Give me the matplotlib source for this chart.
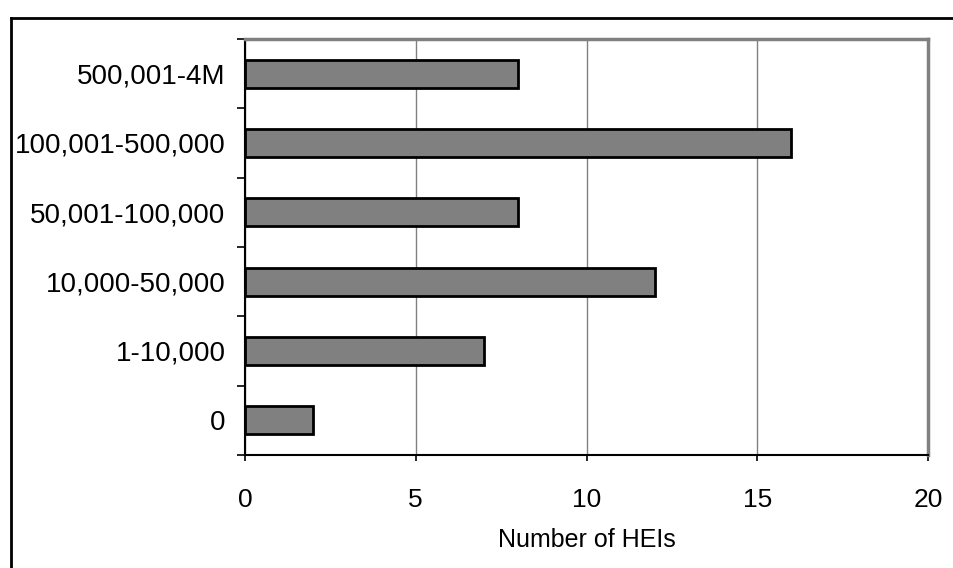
import matplotlib.pyplot as plt
from matplotlib.lines import Line2D

plt.rcParams['font.family'] = ['Liberation Sans', 'DejaVu Sans']

# population size bands and number of institutions in each
bands = ["0", "1-10,000", "10,000-50,000", "50,001-100,000",
         "100,001-500,000", "500,001-4M"]
counts = [2, 7, 12, 8, 16, 8]
x_ticks = [0, 5, 10, 15, 20]

fig = plt.figure(figsize=(9.54, 5.68), dpi=100)
ax = fig.add_axes([245 / 954, 1 - 455 / 568, (928 - 245) / 954, (455 - 39) / 568])

pos = list(range(len(bands)))
ax.barh(pos, counts, height=0.4, color="#808080", edgecolor="black",
        linewidth=2, zorder=3)

# axes ranges
ax.set_xlim(0, 20)
ax.set_ylim(-0.5, len(bands) - 0.5)

# vertical grid lines only
ax.set_xticks(x_ticks)
ax.xaxis.grid(True, color="#808080", linewidth=1)
ax.set_axisbelow(True)

# category labels at centres, tick marks at the boundaries
ax.set_yticks(pos)
ax.set_yticklabels(bands, fontsize=20)
ax.set_yticks([p - 0.5 for p in pos] + [len(bands) - 0.5], minor=True)
ax.tick_params(axis="y", which="major", length=0, pad=14)
ax.tick_params(axis="y", which="minor", length=6, width=1.2, color="black")
ax.tick_params(axis="x", length=4, width=1.2, color="black",
               labelsize=19, pad=20)

ax.set_xlabel("Number of HEIs", fontsize=18, labelpad=11)

for side in ("left", "bottom"):
    ax.spines[side].set_color("black")
    ax.spines[side].set_linewidth(1.5)
for side in ("top", "right"):
    ax.spines[side].set_color("#808080")
    ax.spines[side].set_linewidth(2.5)

# outer chart frame
fig.add_artist(Line2D([11 / 954, 1], [1 - 18 / 568, 1 - 18 / 568],
                      transform=fig.transFigure, color="black", linewidth=2))
fig.add_artist(Line2D([11 / 954, 11 / 954], [0, 1 - 18 / 568],
                      transform=fig.transFigure, color="black", linewidth=2))

fig.savefig("out.png", dpi=100)
